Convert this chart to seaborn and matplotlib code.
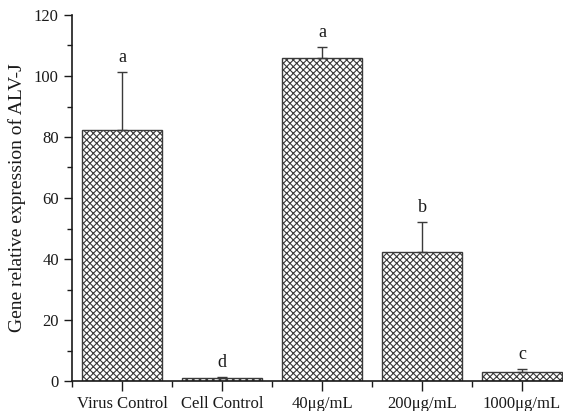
import matplotlib
matplotlib.use("Agg")
import matplotlib.pyplot as plt
from matplotlib.ticker import MultipleLocator, FixedLocator
import seaborn as sns
import pandas as pd
import numpy as np

groups = ["Virus Control", "Cell Control", "40\u03bcg/mL", "200\u03bcg/mL", "1000\u03bcg/mL"]
means = [82.3, 1.0, 105.8, 42.4, 3.0]
errors = [19.0, 0.3, 3.8, 9.7, 0.9]
letters = ["a", "d", "a", "b", "c"]

sns.set_theme(style="ticks")
plt.rcParams["font.family"] = ["Liberation Serif", "DejaVu Serif"]
plt.rcParams["hatch.color"] = "#6a6a6a"
plt.rcParams["hatch.linewidth"] = 0.8

df = pd.DataFrame({"group": groups, "value": means})

fig = plt.figure(figsize=(5.63, 4.11), dpi=100)
ax = fig.add_axes([72 / 563, 1 - 381 / 411, 500 / 563, 366 / 411])

sns.barplot(data=df, x="group", y="value", ax=ax, color="white",
            edgecolor="#3a3a3a", linewidth=1.0, width=0.8, errorbar=None)
for patch in ax.patches:
    patch.set_hatch("xxxxx")

x = np.arange(len(groups))
ax.errorbar(x, means, yerr=[np.zeros(len(errors)), errors], fmt="none",
            ecolor="#3a3a3a", elinewidth=1.0, capsize=3.5, capthick=1.0)
for xi, m, e, lab in zip(x, means, errors, letters):
    ax.text(xi, m + e + 2.0, lab, ha="center", va="bottom", fontsize=13, color="#1a1a1a")

ax.set_xlim(-0.5, 4.5)
ax.set_ylim(0, 120)
ax.yaxis.set_major_locator(MultipleLocator(20))
ax.yaxis.set_minor_locator(MultipleLocator(10))
ax.xaxis.set_minor_locator(FixedLocator(np.arange(-0.5, 5, 1.0)))
ax.tick_params(axis="both", which="major", direction="out", length=6, width=1.0,
               labelsize=12, color="#1a1a1a", labelcolor="#1a1a1a")
ax.tick_params(axis="both", which="minor", direction="out", length=3.5, width=1.0,
               color="#1a1a1a")
ax.tick_params(axis="x", which="major", length=7, pad=4)
ax.tick_params(axis="x", which="minor", length=4)
ax.set_xlabel("")
ax.set_ylabel("Gene relative expression of ALV-J", fontsize=14, color="#1a1a1a", labelpad=6)
sns.despine(ax=ax)
for s in ["left", "bottom"]:
    ax.spines[s].set_linewidth(1.2)
    ax.spines[s].set_color("#1a1a1a")

fig.savefig("out.png", dpi=100)
